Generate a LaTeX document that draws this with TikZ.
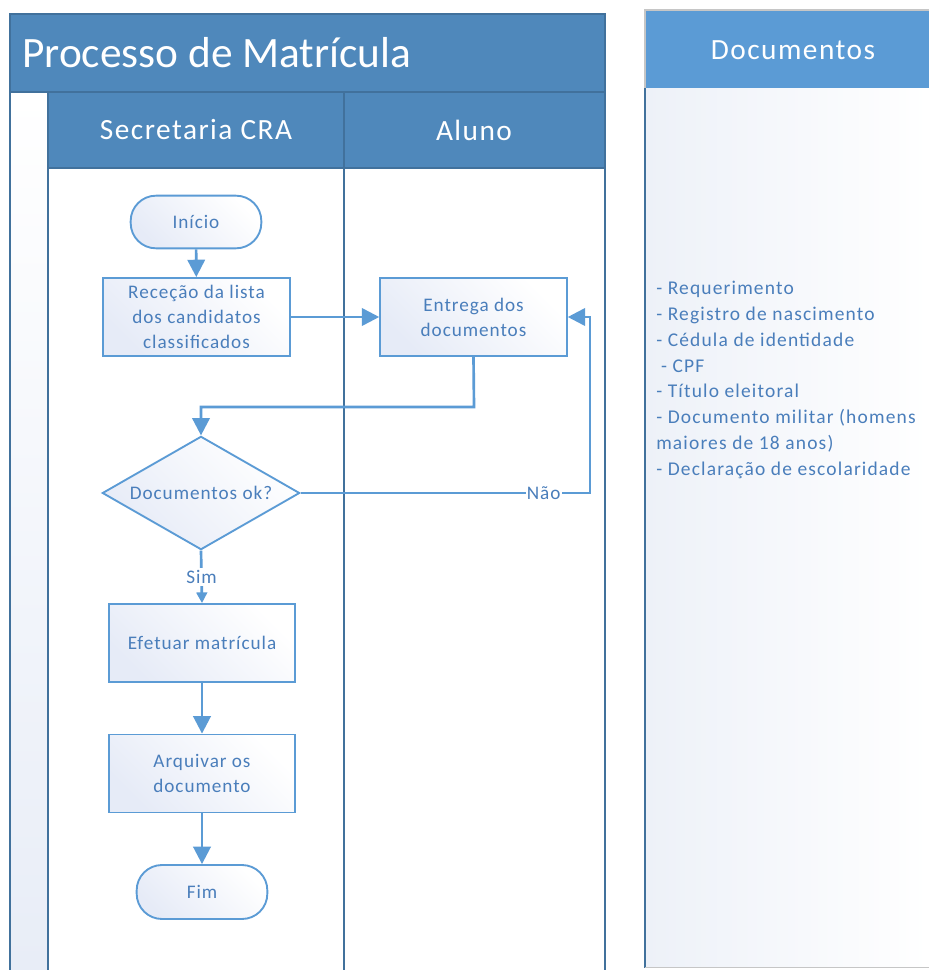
\documentclass[tikz,border=0pt]{standalone}
\usepackage{fontspec}
\setmainfont{Carlito}
\newfontfamily\spacedfam[LetterSpace=5]{Carlito}
\newfontfamily\listfam[LetterSpace=6]{Carlito}
\usetikzlibrary{shapes.geometric,arrows.meta}
\definecolor{hdr}{HTML}{4F88BB}
\definecolor{hdrline}{HTML}{41719C}
\definecolor{docs}{HTML}{5B9BD5}
\definecolor{ln}{HTML}{5B9BD5}
\definecolor{txt}{HTML}{4A7EBB}
\definecolor{nfill}{HTML}{E6EBF7}
\definecolor{strip}{HTML}{E8EDF7}
\definecolor{docbody}{HTML}{EDF1F8}
\begin{document}
\begin{tikzpicture}[x=0.75pt,y=-0.75pt,
  nodefont/.style={font=\spacedfam\fontsize{14.4}{18.75}\selectfont, text=txt},
  procbox/.style={draw=ln, line width=1.4pt, shade, top color=nfill, bottom color=white, shading angle=135,
    minimum width=140pt, minimum height=58.5pt, align=center, inner sep=2pt, nodefont},
  termbox/.style={draw=ln, line width=1.4pt, shade, top color=nfill, bottom color=white, shading angle=135,
    rounded corners=19pt, minimum width=98pt, minimum height=39.5pt, nodefont},
  decbox/.style={draw=ln, line width=1.4pt, shade, top color=nfill, bottom color=white, shading angle=135,
    diamond, aspect=1.74, minimum width=148pt, minimum height=85pt, inner sep=0pt, nodefont},
  arr/.style={draw=ln, line width=2pt, -{Triangle[length=13pt,width=13pt]}},
  arrs/.style={draw=ln, line width=2pt, -{Triangle[length=8pt,width=8pt]}},
  lane/.style={draw=hdrline, line width=1.4pt},
  hdrtext/.style={text=white, font=\spacedfam\fontsize{22}{26}\selectfont},
]
\useasboundingbox (0,0) rectangle (929,970);
\fill[white] (0,0) rectangle (929,970);

% ---- pool ----
\shade[top color=white, bottom color=strip] (10,92) rectangle (48,970);
\fill[hdr] (10,14) rectangle (605,92);
\fill[hdr] (48,92) rectangle (605,168);
\draw[lane] (10,970) -- (10,14) -- (605,14) -- (605,970);
\draw[lane] (10,92) -- (605,92);
\draw[lane] (48,168) -- (605,168);
\draw[lane] (48,92) -- (48,970);
\draw[lane] (344,92) -- (344,970);
\node[anchor=west, text=white, font=\fontsize{32.5}{38}\selectfont, inner sep=0pt] (title) at (22,53) {Processo de Matrícula};
\node[hdrtext] (h1) at (196,130) {Secretaria CRA};
\node[hdrtext] (h2) at (474,130) {Aluno};

% ---- documents panel ----
\shade[left color=docbody, right color=white] (645,88) rectangle (929,967);
\fill[docs] (645,10) rectangle (929,88);
\draw[gray!45, line width=0.8pt] (929,10) -- (645,10) -- (645,88);
\draw[hdrline, line width=1.4pt] (645,88) -- (645,968);
\draw[gray!45, line width=0.8pt] (645,967.5) -- (929,967.5);
\node[hdrtext] (h3) at (793,50) {Documentos};
\node[anchor=west, align=left, text=txt, font=\listfam\fontsize{14.6}{19.3}\selectfont, inner sep=0pt] (list) at (656,380)
 {- Requerimento\\
  - Registro de nascimento\\
  - Cédula de identidade\\
  \hspace*{0.25em}- CPF\\
  - Título eleitoral\\
  - Documento militar (homens\\
  maiores de 18 anos)\\
  - Declaração de escolaridade};

% ---- flow nodes ----
\node[termbox] (ini) at (196,222) {Início};
\node[procbox] (rec) at (196.5,317) {Receção da lista\\dos candidatos\\classificados};
\node[procbox] (ent) at (473.5,317) {Entrega dos\\documentos};
\node[decbox] (dec) at (201,493) {Documentos ok?};
\node[procbox] (efe) at (202,643) {Efetuar matrícula};
\node[procbox] (arq) at (202,773.5) {Arquivar os\\documento};
\node[termbox, minimum height=40.5pt] (fim) at (202,892) {Fim};

% ---- connectors ----
\coordinate (c1) at (474,407);
\coordinate (c2) at (590,493);
\draw[arr] (ini) -- (rec);
\draw[arr] (rec) -- (ent);
\draw[arr] (ent.south) -- (c1) -| (dec.north);
\draw[arr] (dec.east) -- node[pos=0.84, fill=white, inner sep=1pt, nodefont] {Não} (c2) |- (ent.east);
\draw[arrs] (dec.south) -- node[pos=0.5, fill=white, inner sep=2pt, nodefont] {Sim} (efe.north);
\draw[arr] (efe) -- (arq);
\draw[arr] (arq) -- (fim);
\end{tikzpicture}
\end{document}
